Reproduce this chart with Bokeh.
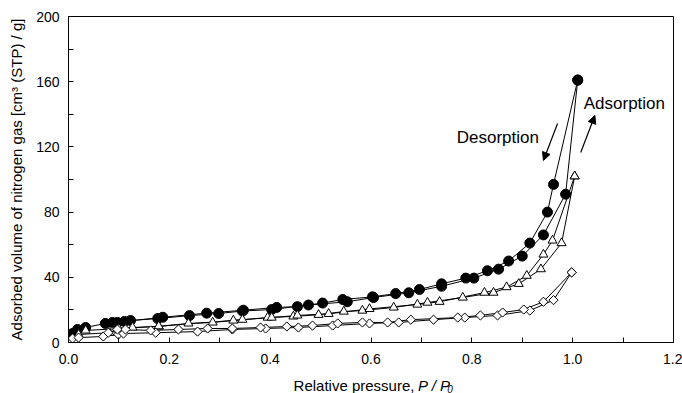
import math
from bokeh.plotting import figure
from bokeh.layouts import column
from bokeh.models import Range1d, FixedTicker, PrintfTickFormatter, Label, Arrow, NormalHead
from bokeh.embed import file_html
from bokeh.resources import INLINE

# ---- data (relative pressure P/P0, adsorbed volume cm3(STP)/g) ----
A_ads_P = [0.008, 0.018, 0.034, 0.073, 0.097, 0.123, 0.177, 0.240, 0.298, 0.345, 0.403,
           0.476, 0.553, 0.605, 0.675, 0.740, 0.804, 0.853, 0.900, 0.942, 0.986, 1.010]
A_ads_V = [5.5, 8.0, 9.2, 11.7, 12.3, 13.5, 14.7, 16.5, 17.8, 19.3, 20.2,
           23.0, 25.0, 27.6, 30.5, 34.5, 39.5, 45.0, 53.0, 66.0, 91.0, 161.0]
A_des_P = [1.010, 0.962, 0.950, 0.915, 0.873, 0.831, 0.788, 0.740, 0.696, 0.649,
           0.603, 0.544, 0.504, 0.454, 0.413, 0.347, 0.274, 0.187, 0.111, 0.087]
A_des_V = [161.0, 97.0, 80.0, 61.0, 50.0, 44.0, 39.5, 36.0, 32.5, 30.0,
           28.0, 26.4, 24.2, 22.0, 21.5, 19.8, 18.0, 15.5, 12.9, 12.3]

B_ads_P = [0.020, 0.081, 0.099, 0.127, 0.179, 0.238, 0.286, 0.327, 0.395, 0.446, 0.496,
           0.546, 0.583, 0.645, 0.712, 0.782, 0.843, 0.893, 0.937, 0.978, 1.004]
B_ads_V = [4.9, 6.0, 8.0, 9.2, 9.8, 11.7, 12.3, 13.5, 15.3, 16.0, 17.0,
           19.0, 19.6, 21.5, 24.5, 27.6, 30.6, 36.0, 45.0, 61.0, 102.0]
B_des_P = [1.004, 0.960, 0.942, 0.909, 0.869, 0.825, 0.736, 0.692, 0.597, 0.516,
           0.454, 0.403, 0.345, 0.179, 0.100, 0.034]
B_des_V = [102.0, 62.6, 54.0, 41.0, 34.0, 30.6, 25.0, 23.3, 20.6, 17.6,
           16.6, 15.3, 14.0, 10.0, 8.5, 7.4]

C_ads_P = [0.008, 0.020, 0.069, 0.099, 0.109, 0.173, 0.256, 0.325, 0.391, 0.456,
           0.524, 0.597, 0.655, 0.724, 0.786, 0.851, 0.915, 0.962, 0.998]
C_ads_V = [2.5, 3.0, 3.7, 4.9, 5.5, 6.0, 6.7, 8.0, 8.6, 9.2,
           10.4, 11.7, 12.3, 14.0, 15.3, 16.6, 19.6, 26.0, 43.0]
C_des_P = [0.998, 0.942, 0.903, 0.861, 0.817, 0.772, 0.679, 0.633, 0.583, 0.534,
           0.484, 0.433, 0.381, 0.325, 0.276, 0.218, 0.163, 0.113, 0.097, 0.079]
C_des_V = [43.0, 25.0, 20.2, 18.4, 16.6, 15.3, 14.0, 12.3, 12.3, 11.7,
           10.4, 9.8, 9.2, 8.6, 8.6, 8.0, 7.4, 8.0, 8.0, 6.0]

x_ticks = [0.0, 0.2, 0.4, 0.6, 0.8, 1.0, 1.2]
x_minor = [0.1, 0.3, 0.5, 0.7, 0.9, 1.1]
y_ticks = [0, 40, 80, 120, 160, 200]
y_minor = [20, 60, 100, 140, 180]

FONT = "Liberation Sans"

p = figure(width=682, height=370, x_range=Range1d(0, 1.2), y_range=Range1d(0, 200),
           output_backend="svg", toolbar_location=None,
           min_border_left=68, min_border_right=9, min_border_top=16, min_border_bottom=28)
p.background_fill_color = "white"
p.border_fill_color = "white"
p.outline_line_color = "black"
p.outline_line_width = 1
p.grid.visible = False

for ax in (p.xaxis[0], p.yaxis[0]):
    ax.axis_line_color = "black"
    ax.major_tick_in = 5
    ax.major_tick_out = 0
    ax.minor_tick_in = 5
    ax.minor_tick_out = 0
    ax.major_tick_line_color = "black"
    ax.minor_tick_line_color = "black"
    ax.major_label_text_font = FONT
    ax.major_label_text_font_size = "14px"
    ax.major_label_text_color = "black"

p.xaxis.ticker = FixedTicker(ticks=x_ticks, minor_ticks=x_minor)
p.xaxis.formatter = PrintfTickFormatter(format="%.1f")
p.xaxis.major_label_standoff = 11
p.yaxis.ticker = FixedTicker(ticks=y_ticks, minor_ticks=y_minor)
p.yaxis.major_label_standoff = 9
p.yaxis.axis_label = "Adsorbed volume of nitrogen gas [cm\u00b3 (STP) / g]"
p.yaxis.axis_label_text_font = FONT
p.yaxis.axis_label_text_font_size = "15px"
p.yaxis.axis_label_text_font_style = "normal"
p.yaxis.axis_label_text_color = "black"
p.yaxis.axis_label_standoff = 8

series = [
    (A_ads_P, A_ads_V, "circle", "black", 10, 0.0),
    (A_des_P, A_des_V, "circle", "black", 10, 0.0),
    (B_ads_P, B_ads_V, "triangle", "white", 9, 0.0),
    (B_des_P, B_des_V, "triangle", "white", 9, 0.0),
    (C_ads_P, C_ads_V, "square", "white", 6.5, math.pi / 4),
    (C_des_P, C_des_V, "square", "white", 6.5, math.pi / 4),
]
for xs, ys, *_ in series:
    p.line(xs, ys, line_color="black", line_width=1)
for xs, ys, marker, fill, size, ang in series:
    p.scatter(xs, ys, marker=marker, size=size, angle=ang, fill_color=fill,
              line_color="black", line_width=1)

# annotations
p.add_layout(Label(x=0.770, y=125.8, text="Desorption", text_font=FONT,
                   text_font_size="17px", text_color="black", text_baseline="alphabetic"))
p.add_layout(Label(x=1.022, y=146.6, text="Adsorption", text_font=FONT,
                   text_font_size="17px", text_color="black", text_baseline="alphabetic"))
p.add_layout(Arrow(end=NormalHead(size=8, fill_color="black", line_color="black"),
                   x_start=0.970, y_start=134.4, x_end=0.942, y_end=111.7,
                   line_color="black", line_width=1.2))
p.add_layout(Arrow(end=NormalHead(size=8, fill_color="black", line_color="black"),
                   x_start=1.016, y_start=116.6, x_end=1.044, y_end=139.3,
                   line_color="black", line_width=1.2))

# x-axis title strip (mixed upright / italic text with subscript)
t = figure(width=682, height=23, x_range=Range1d(0, 682), y_range=Range1d(0, 23),
           output_backend="svg", toolbar_location=None,
           x_axis_location=None, y_axis_location=None,
           min_border=0, min_border_left=0, min_border_right=0,
           min_border_top=0, min_border_bottom=0)
t.grid.visible = False
t.outline_line_color = None
t.background_fill_color = "white"
t.border_fill_color = "white"
t.add_layout(Label(x=390, y=8, text="Relative pressure,", text_font=FONT,
                   text_font_size="15px", text_color="black", text_align="right",
                   text_baseline="alphabetic"))
t.add_layout(Label(x=394, y=8, text="P / P", text_font=FONT,
                   text_font_size="15px", text_font_style="italic", text_color="black",
                   text_align="left", text_baseline="alphabetic"))
t.add_layout(Label(x=427, y=5, text="0", text_font=FONT,
                   text_font_size="10px", text_font_style="italic", text_color="black",
                   text_align="left", text_baseline="alphabetic"))

layout = column(p, t, spacing=0)
open("out.html", "w").write(file_html(layout, INLINE))
